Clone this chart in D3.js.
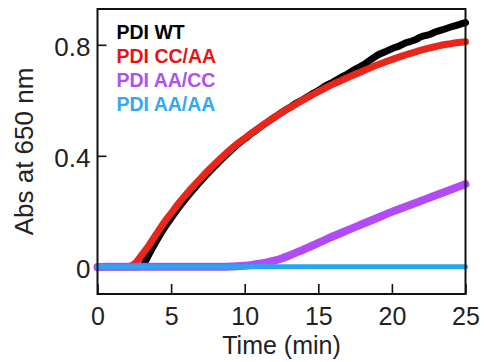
<!DOCTYPE html>
<html>
<head>
<meta charset="utf-8">
<script src="https://cdn.jsdelivr.net/npm/d3@7"></script>
<style>
  html, body { margin: 0; padding: 0; background: #fff; }
  svg { display: block; }
</style>
</head>
<body>
<svg id="chart" width="484" height="362"></svg>
<script>
// Turbidity (absorbance at 650 nm) over time for each PDI variant
const time = [0, 0.5, 1, 1.5, 2, 2.5, 3, 3.5, 4, 4.5, 5, 5.5, 6, 6.5, 7, 7.5, 8, 8.5, 9, 9.5,
  10, 10.5, 11, 11.5, 12, 12.5, 13, 13.5, 14, 14.5, 15, 15.5, 16, 16.5, 17, 17.5, 18, 18.5, 19, 19.5,
  20, 20.5, 21, 21.5, 22, 22.5, 23, 23.5, 24, 24.5, 25];

const seriesNames = ["PDI WT", "PDI CC/AA", "PDI AA/CC", "PDI AA/AA"];
const seriesColors = ["#000000", "#e8261c", "#b14bf5", "#2aa7ec"];
const legendColors = ["#000000", "#e81414", "#ad52ee", "#33a9ee"];

const wt = [0, 0, 0, 0, 0, 0, 0.002, 0.045, 0.093, 0.137, 0.175, 0.212, 0.246, 0.278, 0.308, 0.337, 0.364, 0.391, 0.416, 0.44,
  0.461, 0.482, 0.501, 0.52, 0.538, 0.556, 0.572, 0.589, 0.604, 0.62, 0.635, 0.652, 0.666, 0.681, 0.696, 0.712, 0.726, 0.744, 0.762, 0.774,
  0.786, 0.796, 0.808, 0.816, 0.829, 0.836, 0.847, 0.855, 0.864, 0.872, 0.88];

const ccaa = [0, 0, 0, 0, 0, 0.01, 0.042, 0.078, 0.118, 0.158, 0.193, 0.228, 0.26, 0.29, 0.318, 0.346, 0.372, 0.397, 0.421, 0.443,
  0.463, 0.483, 0.502, 0.52, 0.538, 0.555, 0.571, 0.587, 0.602, 0.617, 0.631, 0.645, 0.658, 0.67, 0.682, 0.694, 0.705, 0.716, 0.727, 0.737,
  0.747, 0.756, 0.765, 0.773, 0.781, 0.788, 0.794, 0.8, 0.804, 0.808, 0.811];

const aacc = [-0.002, 0, 0, 0, 0, 0, 0, 0, 0, 0, 0, 0, 0, 0, 0, 0, 0, 0, 0.001, 0.002,
  0.004, 0.007, 0.011, 0.016, 0.022, 0.03, 0.04, 0.051, 0.062, 0.074, 0.086, 0.098, 0.11, 0.121, 0.132, 0.143, 0.154, 0.165, 0.176, 0.187,
  0.198, 0.208, 0.218, 0.228, 0.238, 0.248, 0.258, 0.268, 0.278, 0.288, 0.298];

const aaaa = [0, 0, 0, 0, 0, 0, 0, 0, 0, 0, 0, 0, 0, 0, 0, 0, 0, 0, 0, 0,
  0, 0, 0, 0, 0, 0, 0, 0, 0, 0, 0, 0, 0, 0, 0, 0, 0, 0, 0, 0,
  0, 0, 0, 0, 0, 0, 0, 0, 0, 0, 0];

const xTicks = [0, 5, 10, 15, 20, 25];
const yTicks = [0, 0.4, 0.8];
const yTickLabels = ["0", "0.4", "0.8"];

const allSeries = [wt, ccaa, aacc, aaaa];
const strokeWidths = [7, 7, 8, 5];

const svg = d3.select("#chart");
const plotLeft = 97.5, plotRight = 465.5, plotTop = 9, plotBottom = 294;

const x = d3.scaleLinear().domain([0, 25]).range([plotLeft, plotRight]);
const y = d3.scaleLinear().domain([-0.098, 0.929]).range([plotBottom, plotTop]);

const font = '"Liberation Sans", Arial, sans-serif';
const textColor = "#222";

// Axes with inward ticks
const xAxis = d3.axisBottom(x).tickValues(xTicks).tickSize(-10).tickPadding(13).tickFormat(d3.format("d"));
const gx = svg.append("g").attr("transform", `translate(0,${plotBottom})`).call(xAxis);
gx.select(".domain").remove();
gx.selectAll(".tick line").attr("stroke", "#111").attr("stroke-width", 1.6);
gx.selectAll(".tick text").attr("font-size", 25).attr("fill", textColor).attr("font-family", font);

const yAxis = d3.axisLeft(y).tickValues(yTicks).tickSize(-9).tickPadding(7)
  .tickFormat((d, i) => yTickLabels[i]);
const gy = svg.append("g").attr("transform", `translate(${plotLeft},0)`).call(yAxis);
gy.select(".domain").remove();
gy.selectAll(".tick line").attr("stroke", "#111").attr("stroke-width", 1.6);
gy.selectAll(".tick text").attr("font-size", 26).attr("fill", textColor).attr("font-family", font)
  .attr("dy", "0.4em");

// Data curves
const line = d3.line().x((d, i) => x(time[i])).y(d => y(d)).curve(d3.curveMonotoneX);
allSeries.forEach((s, k) => {
  svg.append("path")
    .datum(s)
    .attr("d", line)
    .attr("fill", "none")
    .attr("stroke", seriesColors[k])
    .attr("stroke-width", strokeWidths[k])
    .attr("stroke-linecap", "round")
    .attr("stroke-linejoin", "round");
});

// Plot frame
svg.append("rect")
  .attr("x", plotLeft).attr("y", plotTop)
  .attr("width", plotRight - plotLeft).attr("height", plotBottom - plotTop)
  .attr("fill", "none").attr("stroke", "#111").attr("stroke-width", 2);

// Legend
seriesNames.forEach((name, k) => {
  svg.append("text")
    .attr("x", 116.5).attr("y", 38.5 + k * 24.3)
    .attr("font-family", font).attr("font-weight", "bold").attr("font-size", 19.5)
    .attr("fill", legendColors[k])
    .text(name);
});

// Axis titles
svg.append("text")
  .attr("x", (plotLeft + plotRight) / 2).attr("y", 354)
  .attr("text-anchor", "middle")
  .attr("font-family", font).attr("font-size", 25).attr("fill", textColor)
  .text("Time (min)");

svg.append("text")
  .attr("transform", `translate(33,${(plotTop + plotBottom) / 2}) rotate(-90)`)
  .attr("text-anchor", "middle")
  .attr("font-family", font).attr("font-size", 26).attr("fill", textColor)
  .text("Abs at 650 nm");
</script>
</body>
</html>
